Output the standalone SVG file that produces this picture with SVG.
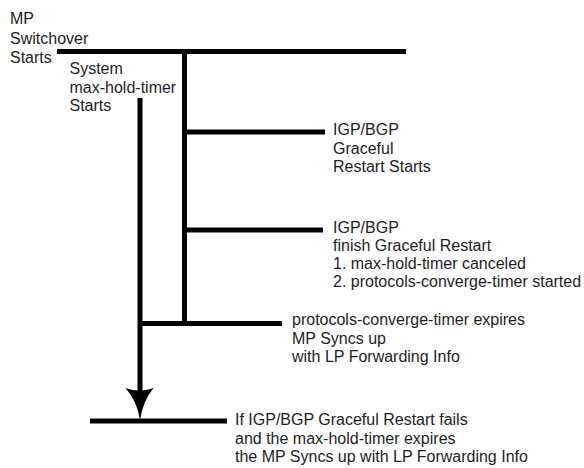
<svg xmlns="http://www.w3.org/2000/svg" width="584" height="468" viewBox="0 0 584 468">
<style>
  .ln { stroke: #000; stroke-width: 5; fill: none; stroke-linecap: butt; }
  .tx { font-family: "Liberation Sans", Arial, sans-serif; font-size: 16px; fill: #1e1e1e; }
</style>
<rect width="584" height="468" fill="#fff"/>
<g id="connectors">
  <line class="ln" x1="57" y1="51.5" x2="406" y2="51.5"/>
  <line class="ln" x1="184.5" y1="51.5" x2="184.5" y2="325.5"/>
  <line class="ln" x1="184.5" y1="132" x2="325" y2="132"/>
  <line class="ln" x1="184.5" y1="230" x2="323" y2="230"/>
  <line class="ln" x1="138" y1="323.5" x2="282" y2="323.5"/>
  <line class="ln" x1="140" y1="98" x2="140" y2="395"/>
  <path d="M125.5,388 Q139.5,393 153.5,388 Q143,401 140,420 Q137,401 125.5,388 Z" fill="#000"/>
  <line class="ln" x1="90" y1="421" x2="227" y2="421"/>
</g>
<g id="mp-switchover">
  <text class="tx" x="10" y="24">MP</text>
  <text class="tx" x="10" y="44">Switchover</text>
  <text class="tx" x="10" y="63">Starts</text>
</g>
<g id="system-timer">
  <text class="tx" x="69.5" y="74">System</text>
  <text class="tx" x="69.5" y="92.5">max-hold-timer</text>
  <text class="tx" x="69.5" y="111">Starts</text>
</g>
<g id="gr-starts">
  <text class="tx" x="333" y="135">IGP/BGP</text>
  <text class="tx" x="333" y="153.5">Graceful</text>
  <text class="tx" x="333" y="172">Restart Starts</text>
</g>
<g id="gr-finish">
  <text class="tx" x="333" y="232.5">IGP/BGP</text>
  <text class="tx" x="333" y="250.5">finish Graceful Restart</text>
  <text class="tx" x="333" y="268.5">1. max-hold-timer canceled</text>
  <text class="tx" x="333" y="286.5">2. protocols-converge-timer started</text>
</g>
<g id="converge-expires">
  <text class="tx" x="292" y="325">protocols-converge-timer expires</text>
  <text class="tx" x="292" y="343.5">MP Syncs up</text>
  <text class="tx" x="292" y="362">with LP Forwarding Info</text>
</g>
<g id="timer-expires">
  <text class="tx" x="235" y="425">If IGP/BGP Graceful Restart fails</text>
  <text class="tx" x="235" y="443.5">and the max-hold-timer expires</text>
  <text class="tx" x="235" y="462">the MP Syncs up with LP Forwarding Info</text>
</g>
</svg>
